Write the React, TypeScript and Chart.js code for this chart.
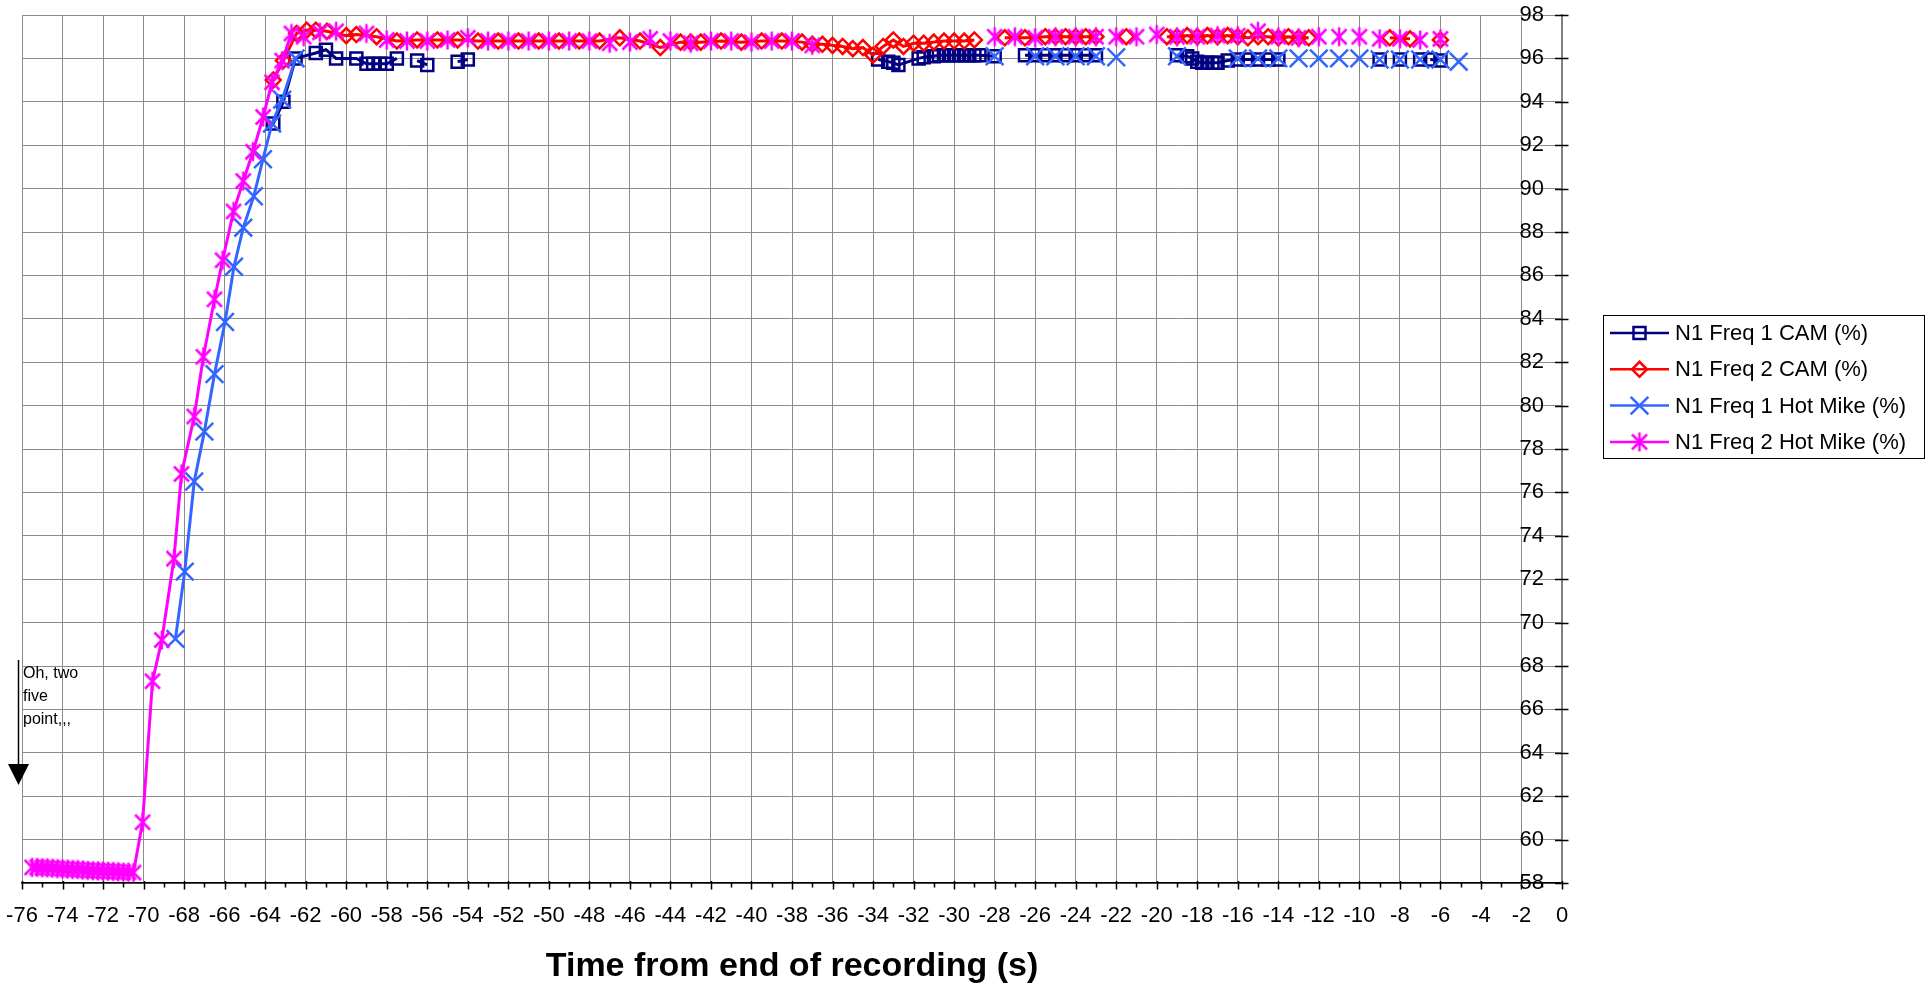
import React, { useEffect, useRef } from 'react';
import { Chart, registerables } from 'chart.js';

Chart.register(...registerables);

const FONT = '"Liberation Sans", Arial, sans-serif';

const X_MIN = -76;
const X_MAX = 0;
const X_STEP = 2;
const Y_MIN = 58;
const Y_MAX = 98;
const Y_STEP = 2;
const X_TITLE = 'Time from end of recording (s)';
const NOTE_LINES = ['Oh, two', 'five', 'point,,,'];

const seriesNames = ['N1 Freq 1 CAM (%)', 'N1 Freq 2 CAM (%)', 'N1 Freq 1 Hot Mike (%)', 'N1 Freq 2 Hot Mike (%)'];
const seriesColors = ['#000080', '#FF0000', '#3366FF', '#FF00FF'];

// N1 Freq 1 CAM (%)  (null = break in line)
const cam1X = [-63.6, -63.1, -62.5, -61.5, -61.0, -60.5, -59.5, -59.0, -58.67, -58.33, -58.0, -57.5, null, -56.5, -56.0, null, -54.5, -54.0, null,
  -33.75, -33.25, -33.0, -32.75, -31.75, -31.5, -31.0, -30.75, -30.5, -30.25, -30.0, -29.75, -29.5, -29.25, -29.0, -28.75, -28.0, null,
  -26.5, -26.0, -25.5, -25.0, -24.5, -24.0, -23.5, -23.0, null,
  -19.0, -18.5, -18.25, -18.0, -17.75, -17.5, -17.25, -17.0, -16.5, -16.0, -15.5, -15.0, -14.5, -14.0, null,
  -9.0, null, -8.0, null, -7.0, null, -6.5, -6.0];
const cam1Y = [93.0, 94.0, 96.0, 96.25, 96.4, 96.0, 96.0, 95.75, 95.75, 95.75, 95.75, 96.0, null, 95.9, 95.7, null, 95.85, 95.95, null,
  95.95, 95.85, 95.8, 95.7, 96.0, 96.05, 96.1, 96.15, 96.15, 96.15, 96.15, 96.15, 96.15, 96.15, 96.15, 96.15, 96.1, null,
  96.15, 96.15, 96.15, 96.15, 96.15, 96.15, 96.15, 96.15, null,
  96.15, 96.1, 96.0, 95.85, 95.8, 95.8, 95.8, 95.8, 95.9, 95.95, 95.95, 95.95, 95.95, 95.95, null,
  95.95, null, 95.95, null, 95.95, null, 95.95, 95.9];

// N1 Freq 2 CAM (%)
const cam2X = [-63.6, -63.1, -62.45, -61.95, -61.5, -60.95, -60.0, -59.5, -58.5, -57.5, -56.5, -55.5, -54.5, -53.5, -52.5, -51.5, -50.5, -49.5,
  -48.5, -47.5, -46.5, -45.5, -44.5, -43.5, -43.0, -42.5, -41.5, -40.5, -39.5, -38.5, -37.5, -37.0, -36.5, -36.0, -35.5, -35.0, -34.5,
  -34.0, -33.5, -33.0, -32.5, -32.0, -31.5, -31.0, -30.5, -30.0, -29.5, -29.0, null,
  -27.5, -26.5, -25.5, -25.0, -24.5, -24.0, -23.5, -23.0, null, -21.5, null,
  -19.5, -19.0, -18.5, -18.0, -17.5, -17.0, -16.5, -16.0, -15.5, -15.0, -14.5, -14.0, -13.5, -13.0, -12.5, null,
  -8.5, -7.5, null, -6.0];
const cam2Y = [95.0, 95.9, 97.15, 97.3, 97.3, 97.25, 97.05, 97.1, 97.0, 96.8, 96.85, 96.85, 96.85, 96.8, 96.8, 96.8, 96.8, 96.8,
  96.8, 96.8, 96.95, 96.8, 96.5, 96.75, 96.75, 96.75, 96.8, 96.75, 96.8, 96.8, 96.75, 96.65, 96.65, 96.6, 96.55, 96.45, 96.5,
  96.15, 96.55, 96.85, 96.55, 96.7, 96.7, 96.75, 96.8, 96.8, 96.8, 96.85, null,
  96.95, 96.95, 97.0, 97.0, 97.0, 97.0, 97.0, 97.0, null, 97.0, null,
  97.0, 97.0, 97.05, 97.0, 97.05, 97.0, 97.05, 97.0, 96.95, 97.0, 97.0, 96.95, 97.0, 96.95, 96.95, null,
  96.95, 96.9, null, 96.85];

// N1 Freq 1 Hot Mike (%)
const hm1X = [-68.43, -67.97, -67.5, -67.0, -66.5, -65.98, -65.54, -65.08, -64.56, -64.11, -63.66, -63.16, -62.5, null,
  -28.0, null, -26.0, null, -25.0, null, -24.0, null, -23.0, null, -22.0, null, -19.0, null, -16.0, null, -15.0, null,
  -14.0, null, -13.0, null, -12.0, null, -11.0, null, -10.0, null, -9.0, null, -8.0, null, -7.0, null, -6.0, null, -5.1];
const hm1Y = [69.25, 72.35, 76.5, 78.8, 81.45, 83.85, 86.4, 88.2, 89.65, 91.35, 93.0, 94.1, 96.0, null,
  96.1, null, 96.1, null, 96.1, null, 96.1, null, 96.1, null, 96.05, null, 96.1, null, 96.0, null, 96.0, null,
  96.0, null, 96.0, null, 96.0, null, 96.0, null, 96.0, null, 95.95, null, 95.95, null, 95.95, null, 95.95, null, 95.85];

// N1 Freq 2 Hot Mike (%)
const hm2X = [-75.5, -75.25, -75.0, -74.75, -74.5, -74.25, -74.0, -73.75, -73.5, -73.25, -73.0, -72.75, -72.5, -72.25, -72.0, -71.75,
  -71.5, -71.25, -71.0, -70.75, -70.5,
  -70.05, -69.56, -69.1, -68.5, -68.13, -67.5, -67.05, -66.5, -66.1, -65.56, -65.08, -64.6, -64.1, -63.66, -63.16, -62.7, null,
  -62.1, null, -61.3, null, -60.5, null, -59.0, null, -58.0, null, -57.0, null, -56.0, null, -55.0, null, -54.0, null, -53.0, null,
  -52.0, null, -51.0, null, -50.0, null, -49.0, null, -48.0, null, -47.0, null, -46.0, null, -45.0, null, -44.0, null, -43.0, null,
  -42.0, null, -41.0, null, -40.0, null, -39.0, null, -38.0, null, -37.0, null,
  -28.0, null, -27.0, null, -26.0, null, -25.0, null, -24.0, null, -23.0, null, -22.0, null, -21.0, null, -20.0, null, -19.0, null,
  -18.0, null, -17.0, null, -16.0, null, -15.0, null, -14.0, null, -13.0, null, -12.0, null, -11.0, null, -10.0, null, -9.0, null,
  -8.0, null, -7.0, null, -6.0];
const hm2Y = [58.72, 58.72, 58.7, 58.7, 58.68, 58.66, 58.65, 58.64, 58.62, 58.62, 58.6, 58.58, 58.57, 58.56, 58.55, 58.54,
  58.53, 58.52, 58.5, 58.5, 58.48,
  60.8, 67.3, 69.2, 72.95, 76.85, 79.5, 82.25, 84.9, 86.7, 88.95, 90.35, 91.7, 93.3, 94.9, 95.9, 97.15, null,
  97.0, null, 97.2, null, 97.25, null, 97.15, null, 96.85, null, 96.8, null, 96.8, null, 96.85, null, 96.95, null, 96.8, null,
  96.8, null, 96.8, null, 96.8, null, 96.8, null, 96.8, null, 96.7, null, 96.75, null, 96.9, null, 96.8, null, 96.7, null,
  96.8, null, 96.8, null, 96.75, null, 96.8, null, 96.8, null, 96.6, null,
  97.0, null, 97.0, null, 96.95, null, 97.0, null, 97.0, null, 97.0, null, 97.0, null, 97.0, null, 97.1, null, 97.0, null,
  97.0, null, 97.05, null, 97.05, null, 97.25, null, 97.0, null, 96.95, null, 97.0, null, 97.0, null, 97.0, null, 96.9, null,
  96.9, null, 96.85, null, 96.9];

const zip = (xs: (number | null)[], ys: (number | null)[]) => xs.map((x, i) => ({ x, y: ys[i] }));

function makeAsterisk(color: string): HTMLCanvasElement {
  const c = document.createElement('canvas');
  c.width = 24;
  c.height = 24;
  const g = c.getContext('2d')!;
  g.strokeStyle = color;
  g.lineWidth = 2.5;
  g.beginPath();
  g.moveTo(4.5, 4.5); g.lineTo(19.5, 19.5);
  g.moveTo(19.5, 4.5); g.lineTo(4.5, 19.5);
  g.moveTo(12, 2.5); g.lineTo(12, 21.5);
  g.stroke();
  return c;
}

function drawMarker(ctx: CanvasRenderingContext2D, kind: number, x: number, y: number, color: string, star: HTMLCanvasElement) {
  ctx.save();
  ctx.strokeStyle = color;
  ctx.lineWidth = 2.5;
  ctx.beginPath();
  if (kind === 0) {
    const s = 8.5 * Math.SQRT1_2;
    ctx.rect(x - s, y - s, 2 * s, 2 * s);
    ctx.stroke();
  } else if (kind === 1) {
    ctx.moveTo(x - 7.5, y); ctx.lineTo(x, y - 7.5); ctx.lineTo(x + 7.5, y); ctx.lineTo(x, y + 7.5); ctx.closePath();
    ctx.stroke();
  } else if (kind === 2) {
    const o = 12.5 * Math.SQRT1_2;
    ctx.moveTo(x - o, y - o); ctx.lineTo(x + o, y + o);
    ctx.moveTo(x + o, y - o); ctx.lineTo(x - o, y + o);
    ctx.stroke();
  } else {
    ctx.drawImage(star, x - 12, y - 12);
  }
  ctx.restore();
}

export default function App() {
  const ref = useRef<HTMLCanvasElement | null>(null);

  useEffect(() => {
    if (!ref.current) return;
    const star = makeAsterisk(seriesColors[3]);

    const extras = {
      id: 'extras',
      beforeDatasetsDraw(chart: any) {
        const { ctx, chartArea, scales } = chart;
        const xs = scales.x, ys = scales.y;
        ctx.save();
        ctx.strokeStyle = '#000';
        ctx.lineWidth = 1.5;
        ctx.beginPath();
        for (let v = X_MIN; v <= X_MAX; v++) {
          const px = Math.round(xs.getPixelForValue(v)) + 0.5;
          if ((v - X_MIN) % X_STEP === 0) {
            ctx.moveTo(px, chartArea.bottom - 2);
            ctx.lineTo(px, chartArea.bottom + 6.5);
          } else {
            ctx.moveTo(px, chartArea.bottom);
            ctx.lineTo(px, chartArea.bottom + 4.5);
          }
        }
        for (let v = Y_MIN; v <= Y_MAX; v += Y_STEP) {
          const py = Math.round(ys.getPixelForValue(v)) + 0.5;
          ctx.moveTo(chartArea.right - 7, py);
          ctx.lineTo(chartArea.right + 6.5, py);
        }
        ctx.stroke();
        ctx.restore();
      },
      afterDraw(chart: any) {
        const { ctx } = chart;
        ctx.save();
        // legend
        ctx.strokeStyle = '#000';
        ctx.lineWidth = 1;
        ctx.strokeRect(1603.5, 315.5, 321, 143);
        ctx.font = `22px ${FONT}`;
        ctx.textBaseline = 'middle';
        ctx.textAlign = 'left';
        seriesNames.forEach((name, i) => {
          const y = 333 + i * 36.3;
          ctx.strokeStyle = seriesColors[i];
          ctx.lineWidth = 2.5;
          ctx.beginPath();
          ctx.moveTo(1610, y);
          ctx.lineTo(1669, y);
          ctx.stroke();
          drawMarker(ctx, i, 1639.5, y, seriesColors[i], star);
          ctx.fillStyle = '#000';
          ctx.fillText(name, 1675, y + 1);
        });
        // annotation arrow
        ctx.strokeStyle = '#000';
        ctx.lineWidth = 1.5;
        ctx.beginPath();
        ctx.moveTo(18.5, 660);
        ctx.lineTo(18.5, 766);
        ctx.stroke();
        ctx.fillStyle = '#000';
        ctx.beginPath();
        ctx.moveTo(8, 764);
        ctx.lineTo(29, 764);
        ctx.lineTo(18.5, 785);
        ctx.closePath();
        ctx.fill();
        ctx.font = `16px ${FONT}`;
        NOTE_LINES.forEach((t, i) => ctx.fillText(t, 23, 674 + i * 22.7));
        ctx.restore();
      },
    };

    const common = { borderWidth: 3, pointBorderWidth: 2.5, pointBackgroundColor: 'rgba(0,0,0,0)', spanGaps: false, tension: 0 };

    const chart = new Chart(ref.current, {
      type: 'line',
      data: {
        datasets: [
          { ...common, label: seriesNames[0], data: zip(cam1X, cam1Y), borderColor: seriesColors[0], pointBorderColor: seriesColors[0], pointStyle: 'rect', pointRadius: 8.5, order: 4 },
          { ...common, label: seriesNames[1], data: zip(cam2X, cam2Y), borderColor: seriesColors[1], pointBorderColor: seriesColors[1], pointStyle: 'rectRot', pointRadius: 7.5, order: 3 },
          { ...common, label: seriesNames[2], data: zip(hm1X, hm1Y), borderColor: seriesColors[2], pointBorderColor: seriesColors[2], pointStyle: 'crossRot', pointRadius: 12.5, order: 2 },
          { ...common, label: seriesNames[3], data: zip(hm2X, hm2Y), borderColor: seriesColors[3], pointBorderColor: seriesColors[3], pointStyle: star, pointRadius: 10, order: 1 },
        ] as any,
      },
      options: {
        responsive: false,
        animation: false,
        events: [],
        layout: { padding: { left: 22, top: 12, right: 364, bottom: 0 } },
        plugins: { legend: { display: false }, tooltip: { enabled: false } },
        scales: {
          x: {
            type: 'linear',
            position: 'bottom',
            min: X_MIN,
            max: X_MAX,
            ticks: { stepSize: X_STEP, autoSkip: false, maxRotation: 0, color: '#000', padding: 20, font: { family: FONT, size: 22 } },
            grid: { color: '#8c8c8c', lineWidth: 1, drawTicks: false },
            border: { color: '#000', width: 1.5 },
            title: { display: true, text: X_TITLE, color: '#000', font: { family: FONT, size: 34, weight: 'bold', lineHeight: 1 }, padding: { top: 0, bottom: 2 } },
            afterFit: (s: any) => { s.height = 103; s.paddingLeft = 0; s.paddingRight = 0; },
          },
          y: {
            type: 'linear',
            position: 'right',
            min: Y_MIN,
            max: Y_MAX,
            ticks: { stepSize: Y_STEP, mirror: true, padding: -18, color: '#000', font: { family: FONT, size: 22 } },
            grid: { color: '#8c8c8c', lineWidth: 1, drawTicks: false },
            border: { color: '#808080', width: 2 },
            afterFit: (s: any) => { s.width = 0; s.paddingTop = 0; s.paddingBottom = 0; },
          },
        },
      } as any,
      plugins: [extras],
    });
    return () => chart.destroy();
  }, []);

  return (
    <canvas
      ref={ref}
      width={1926}
      height={986}
      style={{ position: 'fixed', left: 0, top: 0, width: 1926, height: 986, display: 'block', background: '#fff' }}
    />
  );
}
